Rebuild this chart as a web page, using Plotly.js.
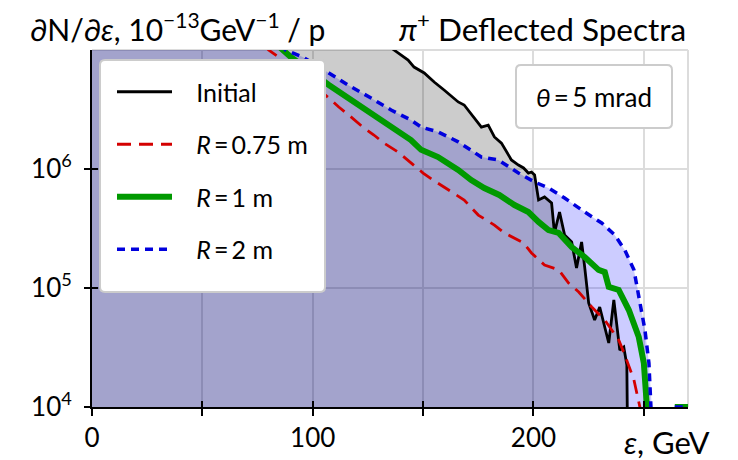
<!DOCTYPE html>
<html><head><meta charset="utf-8">
<script src="https://cdn.plot.ly/plotly-3.0.1.min.js"></script>
<style>body{margin:0;background:#fff}</style>
</head><body>
<div id="chart" style="width:738px;height:460px"></div>
<script>
// Energy (GeV) and dN/dE values
const initialE = [0,20,40,60,80,100,120,136.8,143.2,145.9,150.5,155,159.5,165.9,168.6,173.2,176.4,179.5,182.3,185.5,190,193.2,195.5,197.7,199.1,200.5,202.3,205,208.2,209.5,211.8,214.1,217.3,219.5,221.8,223.2,225,227.7,230,234.1,236.4,239.1,240.9,242.3,243];
const initialN = [3e8,2.5e8,1.8e8,1.1e8,6e7,3.5e7,1.8e7,1e7,8.24e6,7.19e6,6.41e6,5.38e6,4.61e6,3.66e6,3.45e6,2.69e6,2.25e6,2.34e6,1.86e6,1.65e6,1.19e6,1.08e6,1.02e6,9.25e5,9.44e5,8.91e5,5.49e5,5.82e5,5.18e5,2.90e5,4.35e5,2.79e5,2.44e5,1.47e5,2.44e5,1.50e5,7.48e4,5.38e4,6.92e4,3.45e4,7.93e4,3.01e4,3.19e4,2.25e4,1e3];

const r075E = [0,20,40,60,80,84.5,107.3,111.8,117.3,122.7,127.7,132.3,138.6,144.5,150,154.5,162.7,168.6,175,182.3,186.8,191.4,195.5,199.1,205,211.4,215.9,220.5,226.4,232.3,238.6,241.4,245.5,248.2,249.5];
const r075N = [1.2e8,9e7,6e7,3e7,1e7,8.73e6,3.95e6,3.32e6,2.74e6,2.25e6,1.93e6,1.65e6,1.39e6,1.12e6,9.25e5,8.08e5,6.41e5,5.49e5,4.10e5,3.38e5,2.90e5,2.63e5,2.39e5,1.97e5,1.56e5,1.42e5,1.10e5,9.25e4,6.92e4,5.38e4,3.66e4,2.73e4,1.69e4,1e4,3e3];

const r1E = [0,20,40,60,85.5,90,107.3,114.1,121.8,129.5,136.8,144.5,149.1,156.8,165.9,171.8,177.7,184.5,191.4,197.7,202.3,206.8,211.4,217.3,223.2,229.5,232.3,234.1,238.6,243.2,247.7,250,251.4,252.5,258,264,270];
const r1N = [1.4e8,1.05e8,6.5e7,3.2e7,1.04e7,8.73e6,5.08e6,4.19e6,3.32e6,2.69e6,2.13e6,1.75e6,1.45e6,1.26e6,9.82e5,8.08e5,6.92e5,6.05e5,4.98e5,4.35e5,3.59e5,3.07e5,2.90e5,2.21e5,1.82e5,1.42e5,1.36e5,1.02e5,9.62e4,6.53e4,3.87e4,2.34e4,1e4,3e3,null,1e4,1e4];

const r2E = [0,20,40,60,87.7,95.5,107.3,115.9,126.4,135.5,144.5,149.1,156.8,165.9,176.4,184.1,193.2,200.5,206.8,214.1,223.2,230.9,236.8,241.4,245.5,248.2,250.5,252.3,253.6,254.5,258,264,270];
const r2N = [1.6e8,1.2e8,7.5e7,3.5e7,1e7,8.73e6,6.41e6,5.08e6,3.95e6,3.13e6,2.58e6,2.25e6,2.05e6,1.69e6,1.26e6,1.19e6,9.25e5,7.78e5,6.92e5,5.70e5,4.35e5,3.52e5,2.79e5,2.08e5,1.42e5,7.93e4,4.43e4,2.34e4,1e4,3e3,null,1e4,1e4];

const seriesNames = ['Initial', '<i>R</i>\u2009=\u20090.75 m', '<i>R</i>\u2009=\u20091 m', '<i>R</i>\u2009=\u20092 m'];
const xTickVals = [0,50,100,150,200,250];
const xTickText = ['0','','100','','200',''];
const yTickVals = [1e4,1e5,1e6];
const yTickText = ['10<sup>4</sup>\u2002','10<sup>5</sup>\u2002','10<sup>6</sup>\u2002'];

const FONT = 'Lato, "Open Sans", sans-serif';
const GRID = '#dcdcdc';
const FRAME = '#cccccc';

// plot area in px
const PL = 92, PR = 688, PT = 50, PB = 407;
const px = v => (v - PL) / (PR - PL);
const py = v => (PB - v) / (PB - PT);

// rounded rectangle path in paper coords from pixel box
function roundRect(x0, y0, x1, y1, r) {
  const X = v => px(v).toFixed(5), Y = v => py(v).toFixed(5);
  return 'M' + X(x0 + r) + ',' + Y(y0) +
    ' L' + X(x1 - r) + ',' + Y(y0) + ' Q' + X(x1) + ',' + Y(y0) + ' ' + X(x1) + ',' + Y(y0 + r) +
    ' L' + X(x1) + ',' + Y(y1 - r) + ' Q' + X(x1) + ',' + Y(y1) + ' ' + X(x1 - r) + ',' + Y(y1) +
    ' L' + X(x0 + r) + ',' + Y(y1) + ' Q' + X(x0) + ',' + Y(y1) + ' ' + X(x0) + ',' + Y(y1 - r) +
    ' L' + X(x0) + ',' + Y(y0 + r) + ' Q' + X(x0) + ',' + Y(y0) + ' ' + X(x0 + r) + ',' + Y(y0) + ' Z';
}

const pad = '\u00a0\u00a0\u00a0';
const traces = [
  {x: r2E, y: r2N, mode: 'lines', fill: 'tozeroy', fillcolor: 'rgba(0,0,255,0.2)',
   line: {width: 0}, showlegend: false, hoverinfo: 'skip'},
  {x: initialE, y: initialN, mode: 'lines', fill: 'tozeroy', fillcolor: 'rgba(0,0,0,0.2)',
   line: {width: 0}, showlegend: false, hoverinfo: 'skip'},
  {x: initialE, y: initialN, mode: 'lines', name: pad + seriesNames[0], legendgroup: 'a',
   line: {color: 'black', width: 2.8}},
  {x: r075E, y: r075N, mode: 'lines', name: pad + seriesNames[1], legendgroup: 'b',
   line: {color: '#d40000', width: 2.8, dash: '14px,8px'}},
  {x: r1E, y: r1N, mode: 'lines', name: pad + seriesNames[2], legendgroup: 'c',
   line: {color: '#009900', width: 6}},
  {x: r2E, y: r2N, mode: 'lines', name: pad + seriesNames[3], legendgroup: 'd',
   line: {color: '#0000dd', width: 3.5, dash: '8px,6px'}},
  {x: [null], y: [null], xaxis: 'x2', yaxis: 'y2', showlegend: false, hoverinfo: 'skip'}
];

const axisCommon = {
  showline: true, linecolor: 'black', linewidth: 2,
  tickwidth: 2, tickcolor: 'black',
  showgrid: true, gridcolor: GRID, gridwidth: 2, zeroline: false,
  tickfont: {family: FONT, size: 26, color: 'black'}
};

const layout = {
  width: 738, height: 460,
  margin: {l: PL, r: 738 - PR, t: PT, b: 460 - PB},
  paper_bgcolor: 'white', plot_bgcolor: 'white',
  font: {family: FONT, color: 'black'},
  xaxis: Object.assign({}, axisCommon, {range: [0, 270], tickvals: xTickVals, ticktext: xTickText,
    ticks: 'outside', ticklen: 7}),
  yaxis: Object.assign({}, axisCommon, {type: 'log', range: [4, 7], tickvals: yTickVals, ticktext: yTickText,
    ticks: 'inside', ticklen: 6}),
  xaxis2: {overlaying: 'x', anchor: 'y2', side: 'bottom', range: [0, 270], tickvals: xTickVals,
    ticks: 'inside', ticklen: 6, tickwidth: 2, tickcolor: 'black', showticklabels: false,
    showgrid: false, zeroline: false, showline: false},
  yaxis2: {overlaying: 'y', anchor: 'x2', side: 'left', type: 'log', range: [4, 7], tickvals: yTickVals,
    ticks: 'outside', ticklen: 7, tickwidth: 2, tickcolor: 'black', showticklabels: false,
    showgrid: false, zeroline: false, showline: false},
  showlegend: true,
  legend: {x: px(112), y: py(69), xanchor: 'left', yanchor: 'top',
    bgcolor: 'rgba(0,0,0,0)', borderwidth: 0,
    font: {family: FONT, size: 25, color: 'black'},
    itemwidth: 55, traceorder: 'grouped', tracegroupgap: 17},
  shapes: [
    {type: 'line', xref: 'paper', yref: 'paper', x0: 0, x1: 1, y0: 1, y1: 1, layer: 'below', line: {color: GRID, width: 2}},
    {type: 'line', xref: 'paper', yref: 'paper', x0: 1, x1: 1, y0: 0, y1: 1, layer: 'below', line: {color: GRID, width: 2}},
    {type: 'path', xref: 'paper', yref: 'paper', layer: 'above', path: roundRect(100, 60, 325, 292, 5),
     fillcolor: 'white', line: {color: FRAME, width: 2}},
    {type: 'path', xref: 'paper', yref: 'paper', layer: 'above', path: roundRect(516, 65, 672, 128, 5),
     fillcolor: 'white', line: {color: FRAME, width: 2}}
  ],
  annotations: [
    {xref: 'paper', yref: 'paper', x: px(28), y: py(27), xanchor: 'left', yanchor: 'middle', showarrow: false,
     text: '∂N/∂<i>ε</i>, 10<sup>−13</sup>GeV<sup>−1</sup> / p', font: {family: FONT, size: 30, color: 'black'}},
    {xref: 'paper', yref: 'paper', x: px(688), y: py(27), xanchor: 'right', yanchor: 'middle', showarrow: false,
     text: '<i>π</i><sup>+</sup> Deflected Spectra', font: {family: FONT, size: 31.5, color: 'black'}},
    {xref: 'paper', yref: 'paper', x: px(622), y: py(442), xanchor: 'left', yanchor: 'middle', showarrow: false,
     text: '<i>ε</i>, GeV', font: {family: FONT, size: 31, color: 'black'}},
    {xref: 'paper', yref: 'paper', x: px(594), y: py(97), xanchor: 'center', yanchor: 'middle', showarrow: false,
     text: '<i>θ</i>\u2009=\u20095 mrad', font: {family: FONT, size: 26, color: 'black'}}
  ]
};

Plotly.newPlot('chart', traces, layout, {staticPlot: true, displayModeBar: false});
</script>
</body></html>
